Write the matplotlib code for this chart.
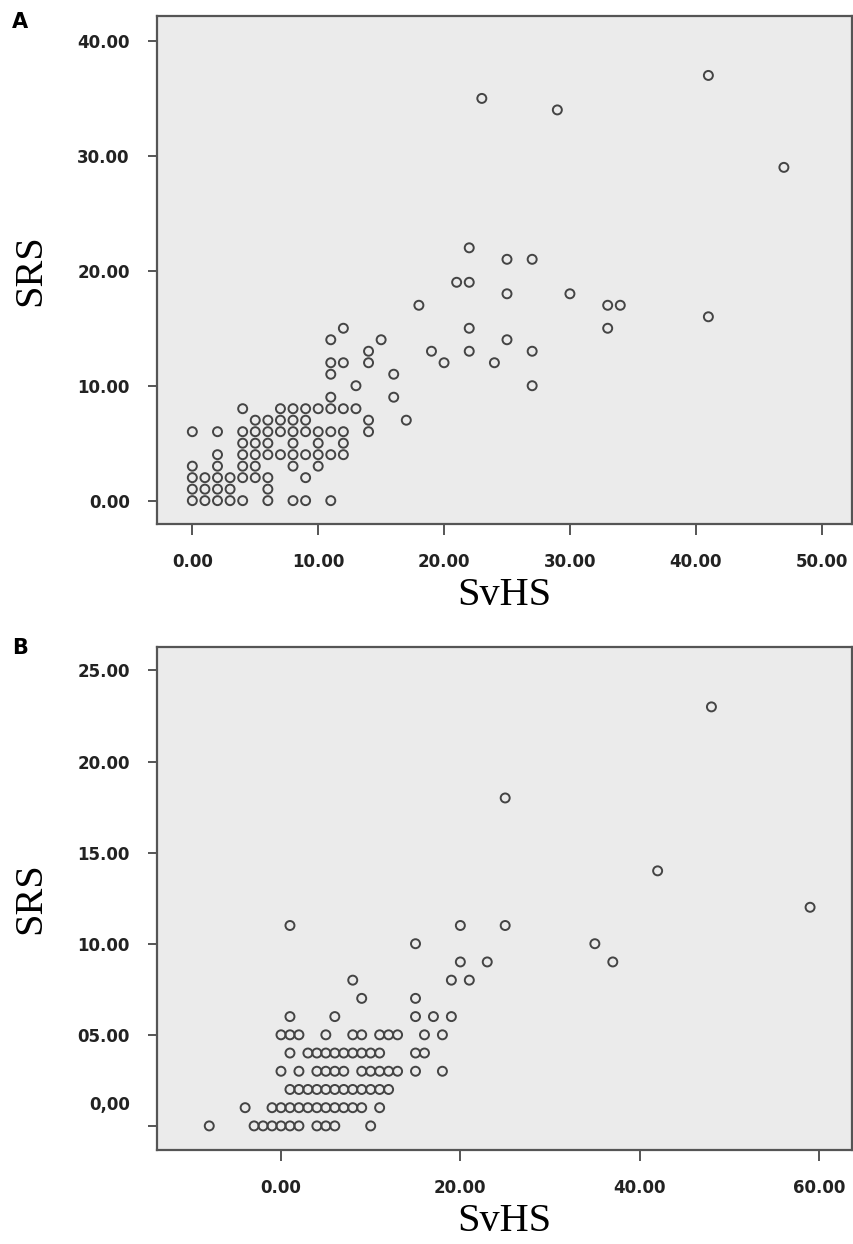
import matplotlib
matplotlib.use("Agg")
import matplotlib.pyplot as plt
import matplotlib.transforms as mtransforms

# panel A: SvHS vs SRS
svhs_a = [0, 1, 2, 3, 4, 6, 8, 9, 11,
          0, 1, 2, 3, 6,
          0, 1, 2, 3, 4, 5, 6, 9,
          0, 2, 4, 5, 8, 10,
          2, 4, 5, 6, 7, 8, 9, 10, 11, 12,
          4, 5, 6, 8, 10, 12,
          0, 2, 4, 5, 6, 7, 8, 9, 10, 11, 12, 14,
          5, 6, 7, 8, 9, 14, 17,
          4, 7, 8, 9, 10, 11, 12, 13,
          11, 16,
          13, 27,
          11, 16,
          11, 12, 14, 20, 24,
          14, 19, 22, 27,
          11, 15, 25,
          12, 22, 33,
          41,
          18, 33, 34,
          25, 30,
          21, 22,
          25, 27,
          22,
          47,
          29,
          23,
          41]
srs_a = [0] * 9 + [1] * 5 + [2] * 8 + [3] * 6 + [4] * 10 + [5] * 6 + \
        [6] * 12 + [7] * 7 + [8] * 8 + [9] * 2 + [10] * 2 + [11] * 2 + \
        [12] * 5 + [13] * 4 + [14] * 3 + [15] * 3 + [16] + [17] * 3 + \
        [18] * 2 + [19] * 2 + [21] * 2 + [22] + [29] + [34] + [35] + [37]

# panel B
svhs_b = [-8, -3, -2, -1, 0, 1, 2, 4, 5, 6, 10,
          -4, -1, 0, 1, 2, 3, 4, 5, 6, 7, 8, 9, 11,
          1, 2, 3, 4, 5, 6, 7, 8, 9, 10, 11, 12,
          0, 2, 4, 5, 6, 7, 9, 10, 11, 12, 13, 15, 18,
          1, 3, 4, 5, 6, 7, 8, 9, 10, 11, 15, 16,
          0, 1, 2, 5, 8, 9, 11, 12, 13, 16, 18,
          1, 6, 15, 17, 19,
          9, 15,
          8, 19, 21,
          20, 23, 37,
          15, 35,
          1, 20, 25,
          59,
          42,
          25,
          48]
srs_b = [0] * 11 + [1] * 13 + [2] * 12 + [3] * 13 + [4] * 12 + [5] * 11 + \
        [6] * 5 + [7] * 2 + [8] * 3 + [9] * 3 + [10] * 2 + [11] * 3 + \
        [12] + [14] + [18] + [23]

xticks_a = [0, 10, 20, 30, 40, 50]
xlabels_a = ['0.00', '10.00', '20.00', '30.00', '40.00', '50.00']
yticks_a = [0, 10, 20, 30, 40]
ylabels_a = ['0.00', '10.00', '20.00', '30.00', '40.00']

xticks_b = [0, 20, 40, 60]
xlabels_b = ['0.00', '20.00', '40.00', '60.00']
yticks_b = [0, 5, 10, 15, 20, 25]
ylabels_b = ['0,00', '05.00', '10.00', '15.00', '20.00', '25.00']

fig = plt.figure(figsize=(8.54, 12.44), dpi=100)
ax_a = fig.add_axes([0.1835, 0.5788, 0.814, 0.4086])
ax_b = fig.add_axes([0.1835, 0.0756, 0.814, 0.4045])


def style(ax, x, y, xt, xl, yt, yl, xlim, ylim):
    ax.set_facecolor('#ebebeb')
    ax.scatter(x, y, s=42, facecolors='none', edgecolors='#444444',
               linewidths=1.4, zorder=3)
    ax.set_xlim(*xlim)
    ax.set_ylim(*ylim)
    ax.set_xticks(xt)
    ax.set_xticklabels(xl)
    ax.set_yticks(yt)
    ax.set_yticklabels(yl)
    for sp in ax.spines.values():
        sp.set_color('#555555')
        sp.set_linewidth(1.6)
    ax.tick_params(axis='x', length=8, width=1.4, color='#555555', pad=13)
    ax.tick_params(axis='y', length=6.5, width=1.4, color='#555555', pad=13)
    for lab in ax.get_xticklabels() + ax.get_yticklabels():
        lab.set_fontweight('bold')
        lab.set_fontsize(12)
        lab.set_color('#222222')
    ax.set_xlabel('SvHS', family='Liberation Serif', fontsize=29, labelpad=4)
    ax.set_ylabel('SRS', family='Liberation Serif', fontsize=29, labelpad=20)


style(ax_a, svhs_a, srs_a, xticks_a, xlabels_a, yticks_a, ylabels_a,
      (-2.83, 52.4), (-2.03, 42.2))
style(ax_b, svhs_b, srs_b, xticks_b, xlabels_b, yticks_b, ylabels_b,
      (-13.86, 63.66), (-1.32, 26.3))

# the 0,00 label in panel B sits above its tick in the original
lab0 = ax_b.get_yticklabels()[0]
lab0.set_transform(lab0.get_transform() +
                   mtransforms.ScaledTranslation(0, 23 / 100, fig.dpi_scale_trans))

fig.text(12 / 854, 1 - 12 / 1244, 'A', fontsize=15, fontweight='bold', va='top')
fig.text(12 / 854, 1 - 638 / 1244, 'B', fontsize=15, fontweight='bold', va='top')

fig.savefig('out.png', dpi=100)
